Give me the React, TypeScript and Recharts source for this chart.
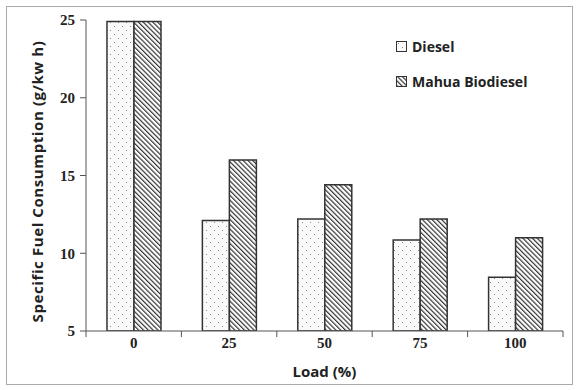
import React from 'react';
import { BarChart, Bar, XAxis, YAxis, Label } from 'recharts';

const loads = ['0', '25', '50', '75', '100'];
const diesel = [24.9, 12.1, 12.2, 10.85, 8.45];
const mahua = [24.9, 16.0, 14.4, 12.2, 11.0];
const yTicks = [5, 10, 15, 20, 25];

const data = loads.map((load, i) => ({ load, diesel: diesel[i], mahua: mahua[i] }));

const W = 578;
const H = 390;
const M = { top: 20, right: 15, bottom: 0, left: 0 };
const Y_W = 86;
const BAND = (W - M.left - M.right - Y_W) / loads.length;

const axisColor = '#555';
const tickFont = '"Liberation Serif", "Times New Roman", serif';
const labelFont = '"Open Sans", Lato, sans-serif';

// ticks sit between categories, not under them
const XTick = (props: any) => {
  const { x, y, payload, index } = props;
  const left = x - BAND / 2;
  return (
    <g>
      <line x1={left} x2={left} y1={y} y2={y + 6} stroke={axisColor} />
      {index === loads.length - 1 && (
        <line x1={x + BAND / 2} x2={x + BAND / 2} y1={y} y2={y + 6} stroke={axisColor} />
      )}
      <text x={x} y={y + 17} textAnchor="middle" fontFamily={tickFont} fontWeight="bold" fontSize={15} fill="#222">
        {payload.value}
      </text>
    </g>
  );
};

const LegendBox = () => (
  <div
    style={{
      position: 'absolute', left: 396, top: 36,
      fontFamily: labelFont, fontWeight: 700, fontSize: 14, color: '#222',
    }}
  >
    <div style={{ display: 'flex', alignItems: 'center', height: 20 }}>
      <svg width={11} height={11} style={{ marginRight: 5 }}>
        <rect x={0.5} y={0.5} width={10} height={10} fill="url(#dots)" stroke="#333" />
      </svg>
      Diesel
    </div>
    <div style={{ display: 'flex', alignItems: 'center', height: 20, marginTop: 15 }}>
      <svg width={11} height={11} style={{ marginRight: 5 }}>
        <rect x={0.5} y={0.5} width={10} height={10} fill="url(#hatch)" stroke="#333" />
      </svg>
      Mahua Biodiesel
    </div>
  </div>
);

export default function App() {
  return (
    <div style={{ position: 'absolute', left: 0, top: 0, width: W, height: H, background: '#fff' }}>
      <div style={{ position: 'absolute', left: 6, top: 6, width: 565, height: 377, border: '1px solid #aaa' }} />
      <BarChart width={W} height={H} data={data} margin={M} barCategoryGap="22%" barGap={0}>
        <defs>
          <pattern id="dots" width={8} height={8} patternUnits="userSpaceOnUse">
            <rect width={8} height={8} fill="#fafafa" />
            <rect x={2} y={2} width={1} height={1} fill="#888" />
            <rect x={6} y={6} width={1} height={1} fill="#888" />
          </pattern>
          <pattern id="hatch" width={3.4} height={3.4} patternUnits="userSpaceOnUse" patternTransform="rotate(-45)">
            <rect width={3.4} height={3.4} fill="#fff" />
            <line x1={0.6} y1={0} x2={0.6} y2={3.4} stroke="#333" strokeWidth={1.2} />
          </pattern>
        </defs>
        <XAxis
          dataKey="load"
          height={H - 331}
          stroke={axisColor}
          tickLine={false}
          tickSize={0}
          tickMargin={0}
          tick={<XTick />}
          interval={0}
        >
          <Label value="Load (%)" position="insideBottom" offset={13} fontFamily={labelFont} fontWeight={700} fontSize={15} fill="#222" />
        </XAxis>
        <YAxis
          width={Y_W}
          domain={[5, 25]}
          ticks={yTicks}
          allowDataOverflow
          stroke={axisColor}
          tickSize={6}
          tickMargin={5}
          tick={{ fontFamily: tickFont, fontWeight: 'bold', fontSize: 15, fill: '#222' }}
        >
          <Label
            value="Specific Fuel Consumption  (g/kw h)"
            angle={-90}
            position="center"
            dx={-5}
            dy={6}
            fontFamily={labelFont}
            fontWeight={700}
            fontSize={15}
            letterSpacing={0.6}
            fill="#222"
          />
        </YAxis>
        <Bar dataKey="diesel" name="Diesel" fill="url(#dots)" stroke="#333" strokeWidth={1.5} isAnimationActive={false} />
        <Bar dataKey="mahua" name="Mahua Biodiesel" fill="url(#hatch)" stroke="#333" strokeWidth={1.5} isAnimationActive={false} />
      </BarChart>
      <LegendBox />
    </div>
  );
}
